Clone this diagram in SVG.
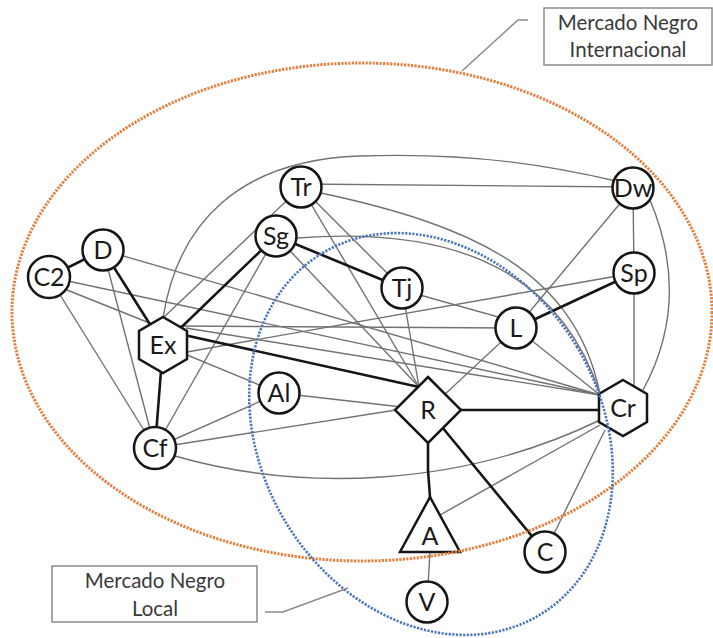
<svg xmlns="http://www.w3.org/2000/svg" width="713" height="638" viewBox="0 0 713 638">
<style>
.thin{stroke:#727272;stroke-width:1.4;fill:none}
.thick{stroke:#151515;stroke-width:2.6;fill:none;stroke-linecap:round}
.node{fill:#fff;stroke:#151515;stroke-width:2.5}
.lbl{font-family:Lato,"Open Sans",sans-serif;font-size:25px;fill:#1a1a1a;text-anchor:middle}
.box{fill:#fff;stroke:#8a8a8a;stroke-width:1.5}
.btxt{font-family:Lato,"Open Sans",sans-serif;font-size:20.5px;fill:#3a3a3a;text-anchor:middle}
.lead{stroke:#8a8a8a;stroke-width:1.5;fill:none}
.dotO{fill:none;stroke:#E67E3C;stroke-width:3;stroke-dasharray:2.2 1.3}
.dotB{fill:none;stroke:#4A76C0;stroke-width:2.6;stroke-dasharray:2.2 1.4}
</style>
<rect width="713" height="638" fill="#fff"/>
<g id="connectors">
<line class="thin" x1="49" y1="277" x2="155" y2="448"/>
<line class="thin" x1="49" y1="277" x2="600" y2="395"/>
<line class="thin" x1="62" y1="288" x2="152" y2="324"/>
<line class="thin" x1="103" y1="250" x2="155" y2="448"/>
<line class="thin" x1="103" y1="250" x2="600" y2="395"/>
<line class="thin" x1="163" y1="318" x2="301" y2="187"/>
<line class="thin" x1="163" y1="345" x2="279" y2="393"/>
<line class="thin" x1="176" y1="326" x2="516" y2="328"/>
<line class="thin" x1="187" y1="352" x2="634" y2="273"/>
<line class="thin" x1="186" y1="328" x2="600" y2="395"/>
<path class="thin" d="M163,318 C178,222 240,160 360,156 S560,168 616,181"/>
<line class="thin" x1="276" y1="236" x2="155" y2="448"/>
<line class="thin" x1="276" y1="236" x2="419" y2="387"/>
<path class="thin" d="M297,238 C430,228 555,255 600,394"/>
<line class="thin" x1="301" y1="184" x2="633" y2="187"/>
<line class="thin" x1="301" y1="187" x2="402" y2="288"/>
<line class="thin" x1="301" y1="187" x2="419" y2="387"/>
<path class="thin" d="M321,193 C470,225 575,270 600,394"/>
<line class="thin" x1="402" y1="288" x2="419" y2="387"/>
<line class="thin" x1="402" y1="290" x2="516" y2="322"/>
<line class="thin" x1="633" y1="188" x2="634" y2="273"/>
<line class="thin" x1="633" y1="188" x2="516" y2="328"/>
<path class="thin" d="M650,200 Q692,300 643,390"/>
<line class="thin" x1="634" y1="273" x2="634" y2="386"/>
<line class="thin" x1="516" y1="328" x2="428" y2="410"/>
<line class="thin" x1="516" y1="328" x2="600" y2="395"/>
<line class="thin" x1="279" y1="393" x2="428" y2="410"/>
<line class="thin" x1="279" y1="393" x2="155" y2="448"/>
<line class="thin" x1="155" y1="448" x2="396" y2="410"/>
<path class="thin" d="M175,456 C300,492 460,488 600,420"/>
<line class="thin" x1="600" y1="425" x2="440" y2="515"/>
<line class="thin" x1="605" y1="430" x2="545" y2="552"/>
<line class="thin" x1="430" y1="552" x2="427" y2="602"/>
<line class="thick" x1="49" y1="277" x2="103" y2="250"/>
<line class="thick" x1="103" y1="250" x2="163" y2="345"/>
<line class="thick" x1="163" y1="345" x2="276" y2="236"/>
<line class="thick" x1="163" y1="345" x2="155" y2="448"/>
<line class="thick" x1="175" y1="333" x2="419" y2="387"/>
<line class="thick" x1="276" y1="236" x2="402" y2="288"/>
<line class="thick" x1="634" y1="273" x2="516" y2="328"/>
<line class="thick" x1="428" y1="410" x2="623" y2="410"/>
<polyline class="thick" points="428,440 428,470 430,497"/>
<line class="thick" x1="428" y1="410" x2="545" y2="552"/>
</g>
<g id="node-Tr"><circle class="node" cx="301" cy="187" r="20.5"/><text class="lbl" x="301" y="196">Tr</text></g>
<g id="node-Dw"><circle class="node" cx="633" cy="188" r="20.5"/><text class="lbl" x="633" y="197">Dw</text></g>
<g id="node-Sg"><circle class="node" cx="276" cy="236" r="20.5"/><text class="lbl" x="276" y="245">Sg</text></g>
<g id="node-D"><circle class="node" cx="103" cy="250" r="20.5"/><text class="lbl" x="103" y="259">D</text></g>
<g id="node-C2"><circle class="node" cx="49" cy="277" r="21"/><text class="lbl" x="49" y="286">C2</text></g>
<g id="node-Sp"><circle class="node" cx="634" cy="273" r="20.5"/><text class="lbl" x="634" y="282">Sp</text></g>
<g id="node-Tj"><circle class="node" cx="402" cy="288" r="20.5"/><text class="lbl" x="402" y="297">Tj</text></g>
<g id="node-L"><circle class="node" cx="516" cy="328" r="20.5"/><text class="lbl" x="516" y="337">L</text></g>
<g id="node-Ex"><polygon class="node" points="163,317 187,331 187,359 163,373 139,359 139,331"/><text class="lbl" x="163" y="354">Ex</text></g>
<g id="node-Al"><circle class="node" cx="279" cy="393" r="20.5"/><text class="lbl" x="279" y="402">Al</text></g>
<g id="node-R"><polygon class="node" points="428,377 461,410 428,443 395,410"/><text class="lbl" x="428" y="419">R</text></g>
<g id="node-Cr"><polygon class="node" points="623,380 647,394 647,422 623,436 599,422 599,394"/><text class="lbl" x="623" y="417">Cr</text></g>
<g id="node-Cf"><circle class="node" cx="155" cy="448" r="21"/><text class="lbl" x="155" y="457">Cf</text></g>
<g id="node-A"><polygon class="node" points="430,497 460,552 400,552"/><text class="lbl" x="430" y="545">A</text></g>
<g id="node-C"><circle class="node" cx="545" cy="552" r="20.5"/><text class="lbl" x="545" y="561">C</text></g>
<g id="node-V"><circle class="node" cx="427" cy="602" r="20.5"/><text class="lbl" x="427" y="611">V</text></g>
<ellipse class="dotO" cx="362" cy="312" rx="350" ry="249"/>
<ellipse class="dotB" cx="431" cy="434" rx="170" ry="211" transform="rotate(-31 431 434)"/>
<g id="label-internacional">
<polyline class="lead" points="528,20 518,20 462,71"/>
<rect class="box" x="544" y="8" width="168" height="57"/>
<text class="btxt" x="628" y="30">Mercado Negro</text>
<text class="btxt" x="628" y="57">Internacional</text>
</g>
<g id="label-local">
<polyline class="lead" points="265,612 283,612 348,588"/>
<rect class="box" x="52" y="566" width="205" height="56"/>
<text class="btxt" x="155" y="588">Mercado Negro</text>
<text class="btxt" x="155" y="616">Local</text>
</g>
</svg>
